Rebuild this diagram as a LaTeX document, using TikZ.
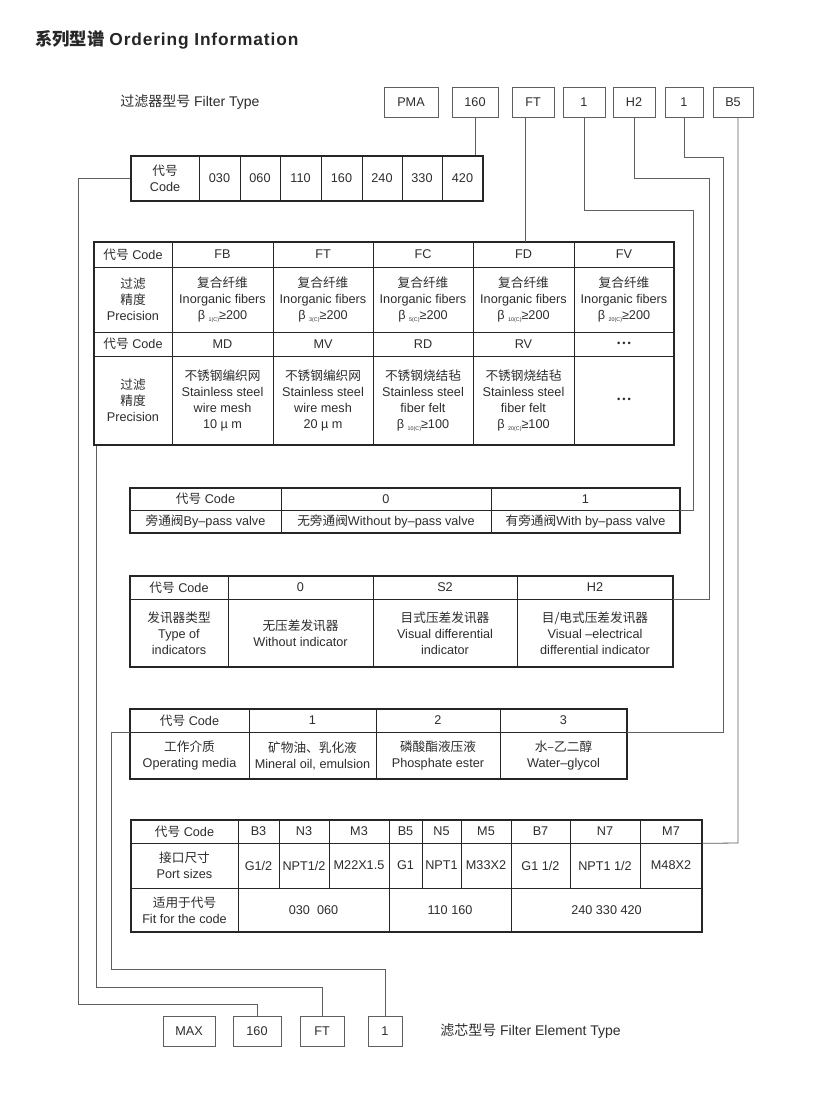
\documentclass[tikz,border=0pt]{standalone}
\usepackage{fontspec}
\setmainfont{Liberation Sans}
\newfontfamily\cjk{Noto Sans CJK SC}
\newfontfamily\titlefont{Liberation Sans}[LetterSpace=5]
\usetikzlibrary{calc}
\definecolor{ink}{RGB}{38,38,38}
\definecolor{txt}{RGB}{45,45,45}
\definecolor{wiregray}{RGB}{95,95,95}
\newcommand{\zh}[1]{{\cjk #1}}
\newcommand{\bsub}[1]{\raisebox{-0.35ex}{\fontsize{4}{4}\selectfont #1}}
\newcommand{\moredots}{{\fontsize{7}{7}\selectfont •\kern1.5pt•\kern1.5pt•}}
\newcommand{\tcell}[6]{%
  \node[cell,minimum width={#4*0.75pt},minimum height={#5*0.75pt}] (#1) at ({#2+#4/2},{#3+#5/2}) {#6};%
}
\newcommand{\tframe}[5]{%
  \node[tabframe,minimum width={#4*0.75pt},minimum height={#5*0.75pt}] (#1) at ({#2+#4/2},{#3+#5/2}) {};%
}
\newcommand{\tagbox}[5]{%
  \node[tag,minimum width={#4*0.75pt}] (#1) at ({#2+#4/2},#3) {#5};%
}
\tikzset{
  cell/.style={draw=ink,line width=0.5pt,inner sep=0pt,align=center,text=txt,
    font=\fontsize{9.5}{12}\selectfont},
  tabframe/.style={draw=ink,line width=1.1pt,inner sep=0pt},
  tag/.style={draw=wiregray,line width=0.6pt,minimum height=22.5pt,inner sep=0pt,
    text=txt,font=\fontsize{9.5}{10}\selectfont},
  wire/.style={draw=wiregray,line width=0.6pt},
  typetext/.style={anchor=west,inner sep=0pt,text=txt,font=\fontsize{10.5}{12}\selectfont}
}

\begin{document}
\begin{tikzpicture}[x=0.75pt,y=-0.75pt]
  \fill[white] (0,0) rectangle (815,1099);
  \useasboundingbox (0,0) rectangle (815,1099);

  \node[anchor=west,inner sep=0pt,text=black!85,font=\bfseries\fontsize{13}{15}\selectfont] (title) at (35,40)
    {\zh{系列型谱} {\titlefont\bfseries Ordering Information}};
  \node[typetext] (ftype) at (120,102) {\zh{过滤器型号} Filter Type};
  \node[typetext] (etype) at (440,1031) {\zh{滤芯型号} Filter Element Type};

  \tagbox{tPMA}{384}{102}{54}{PMA}
  \tagbox{t160}{452}{102}{46}{160}
  \tagbox{tFT}{512}{102}{42}{FT}
  \tagbox{tBP}{563}{102}{42}{1}
  \tagbox{tH2}{613}{102}{42}{H2}
  \tagbox{tMed}{665}{102}{38}{1}
  \tagbox{tB5}{713}{102}{40}{B5}

  \begin{scope}[every node/.append style={font=\fontsize{10}{11.5}\selectfont}]
  \tcell{cd0}{131}{156}{68}{45}{\zh{代号}\\Code}
  \tcell{cd1}{199}{156}{41}{45}{030}
  \tcell{cd2}{240}{156}{40}{45}{060}
  \tcell{cd3}{280}{156}{41}{45}{110}
  \tcell{cd4}{321}{156}{41}{45}{160}
  \tcell{cd5}{362}{156}{40}{45}{240}
  \tcell{cd6}{402}{156}{40}{45}{330}
  \tcell{cd7}{442}{156}{41}{45}{420}
  \end{scope}
  \tframe{codetab}{131}{156}{352}{45}

  \tcell{fl11}{94}{242}{78}{25}{\zh{代号} Code}
  \tcell{fl12}{172}{242}{101}{25}{FB}
  \tcell{fl13}{273}{242}{100}{25}{FT}
  \tcell{fl14}{373}{242}{100}{25}{FC}
  \tcell{fl15}{473}{242}{101}{25}{FD}
  \tcell{fl16}{574}{242}{100}{25}{FV}
  \tcell{fl21}{94}{267}{78}{65}{\zh{过滤}\\\zh{精度}\\Precision}
  \tcell{fl22}{172}{267}{101}{65}{\zh{复合纤维}\\Inorganic fibers\\β \bsub{1(C)}≥200}
  \tcell{fl23}{273}{267}{100}{65}{\zh{复合纤维}\\Inorganic fibers\\β \bsub{3(C)}≥200}
  \tcell{fl24}{373}{267}{100}{65}{\zh{复合纤维}\\Inorganic fibers\\β \bsub{5(C)}≥200}
  \tcell{fl25}{473}{267}{101}{65}{\zh{复合纤维}\\Inorganic fibers\\β \bsub{10(C)}≥200}
  \tcell{fl26}{574}{267}{100}{65}{\zh{复合纤维}\\Inorganic fibers\\β \bsub{20(C)}≥200}
  \tcell{fl31}{94}{332}{78}{24}{\zh{代号} Code}
  \tcell{fl32}{172}{332}{101}{24}{MD}
  \tcell{fl33}{273}{332}{100}{24}{MV}
  \tcell{fl34}{373}{332}{100}{24}{RD}
  \tcell{fl35}{473}{332}{101}{24}{RV}
  \tcell{fl36}{574}{332}{100}{24}{\moredots}
  \tcell{fl41}{94}{356}{78}{89}{\zh{过滤}\\\zh{精度}\\Precision}
  \tcell{fl42}{172}{356}{101}{89}{\zh{不锈钢编织网}\\Stainless steel\\wire mesh\\10 µ m}
  \tcell{fl43}{273}{356}{100}{89}{\zh{不锈钢编织网}\\Stainless steel\\wire mesh\\20 µ m}
  \tcell{fl44}{373}{356}{100}{89}{\zh{不锈钢烧结毡}\\Stainless steel\\fiber felt\\β \bsub{10(C)}≥100}
  \tcell{fl45}{473}{356}{101}{89}{\zh{不锈钢烧结毡}\\Stainless steel\\fiber felt\\β \bsub{20(C)}≥100}
  \tcell{fl46}{574}{356}{100}{89}{\moredots}
  \tframe{bigtab}{94}{242}{580}{203}

  \tcell{bp11}{130}{488}{151}{22}{\zh{代号} Code}
  \tcell{bp12}{281}{488}{210}{22}{0}
  \tcell{bp13}{491}{488}{189}{22}{1}
  \tcell{bp21}{130}{510}{151}{23}{\zh{旁通阀}By–pass valve}
  \tcell{bp22}{281}{510}{210}{23}{\zh{无旁通阀}Without by–pass valve}
  \tcell{bp23}{491}{510}{189}{23}{\zh{有旁通阀}With by–pass valve}
  \tframe{bptab}{130}{488}{550}{45}

  \tcell{in11}{130}{576}{98}{23}{\zh{代号} Code}
  \tcell{in12}{228}{576}{145}{23}{0}
  \tcell{in13}{373}{576}{144}{23}{S2}
  \tcell{in14}{517}{576}{156}{23}{H2}
  \tcell{in21}{130}{599}{98}{68}{\zh{发讯器类型}\\Type of\\indicators}
  \tcell{in22}{228}{599}{145}{68}{\zh{无压差发讯器}\\Without indicator}
  \tcell{in23}{373}{599}{144}{68}{\zh{目式压差发讯器}\\Visual differential\\indicator}
  \tcell{in24}{517}{599}{156}{68}{\zh{目/电式压差发讯器}\\Visual –electrical\\differential indicator}
  \tframe{intab}{130}{576}{543}{91}

  \tcell{md11}{130}{709}{119}{23}{\zh{代号} Code}
  \tcell{md12}{249}{709}{127}{23}{1}
  \tcell{md13}{376}{709}{124}{23}{2}
  \tcell{md14}{500}{709}{127}{23}{3}
  \tcell{md21}{130}{732}{119}{47}{\zh{工作介质}\\Operating media}
  \tcell{md22}{249}{732}{127}{47}{\zh{矿物油、乳化液}\\Mineral oil, emulsion}
  \tcell{md23}{376}{732}{124}{47}{\zh{磷酸酯液压液}\\Phosphate ester}
  \tcell{md24}{500}{732}{127}{47}{\zh{水–乙二醇}\\Water–glycol}
  \tframe{mdtab}{130}{709}{497}{70}

  \begin{scope}[every node/.append style={font=\fontsize{10}{12}\selectfont}]
  \tcell{pt0}{131}{820}{107}{23}{\zh{代号} Code}
  \tcell{pB3}{238}{820}{41}{23}{B3}
  \tcell{pN3}{279}{820}{50}{23}{N3}
  \tcell{pM3}{329}{820}{60}{23}{M3}
  \tcell{pB5}{389}{820}{33}{23}{B5}
  \tcell{pN5}{422}{820}{39}{23}{N5}
  \tcell{pM5}{461}{820}{50}{23}{M5}
  \tcell{pB7}{511}{820}{59}{23}{B7}
  \tcell{pN7}{570}{820}{70}{23}{N7}
  \tcell{pM7}{640}{820}{62}{23}{M7}
  \tcell{ps0}{131}{843}{107}{45}{\zh{接口尺寸}\\Port sizes}
  \tcell{ps1}{238}{843}{41}{45}{G1/2}
  \tcell{ps2}{279}{843}{50}{45}{NPT1/2}
  \tcell{ps3}{329}{843}{60}{45}{M22X1.5}
  \tcell{ps4}{389}{843}{33}{45}{G1}
  \tcell{ps5}{422}{843}{39}{45}{NPT1}
  \tcell{ps6}{461}{843}{50}{45}{M33X2}
  \tcell{ps7}{511}{843}{59}{45}{G1 1/2}
  \tcell{ps8}{570}{843}{70}{45}{NPT1 1/2}
  \tcell{ps9}{640}{843}{62}{45}{M48X2}
  \tcell{pf0}{131}{888}{107}{44}{\zh{适用于代号}\\Fit for the code}
  \tcell{pf1}{238}{888}{151}{44}{030\ \ 060}
  \tcell{pf2}{389}{888}{122}{44}{110 160}
  \tcell{pf3}{511}{888}{191}{44}{240 330 420}
  \end{scope}
  \tframe{pttab}{131}{820}{571}{112}

  \tagbox{eMAX}{163}{1031.5}{52}{MAX}
  \tagbox{e160}{233}{1031.5}{48}{160}
  \tagbox{eFT}{300}{1031.5}{44}{FT}
  \tagbox{e1}{368}{1031.5}{34}{1}

  \coordinate (kFT) at (525,242);
  \coordinate (kBP) at (693,210);
  \coordinate (kH2) at (709,178);
  \coordinate (kMed) at (723,157);
  \coordinate (kB5) at (738,843);
  \coordinate (kA) at (78,1004);
  \coordinate (kB) at (96,987);
  \coordinate (kC) at (111,969);

  \draw[wire] (t160.south) -- (t160.south |- codetab.north);
  \draw[wire] (tFT.south -| kFT) -- (kFT);
  \draw[wire] (tBP.south) |- (kBP) |- (bp13.south east);
  \draw[wire] (tH2.south) |- (kH2) |- (in14.south east);
  \draw[wire] (tMed.south) |- (kMed) |- (md14.south east);
  \draw[wire] (tB5.south -| kB5) -- (kB5) -- (pM7.south east);
  \draw[wire] (codetab.west) -| (kA) -| (e160.north);
  \draw[wire] (bigtab.south west -| kB) -- (kB) -| (eFT.north);
  \draw[wire] (md11.south west) -| (kC) -| (e1.north);
\end{tikzpicture}
\end{document}
